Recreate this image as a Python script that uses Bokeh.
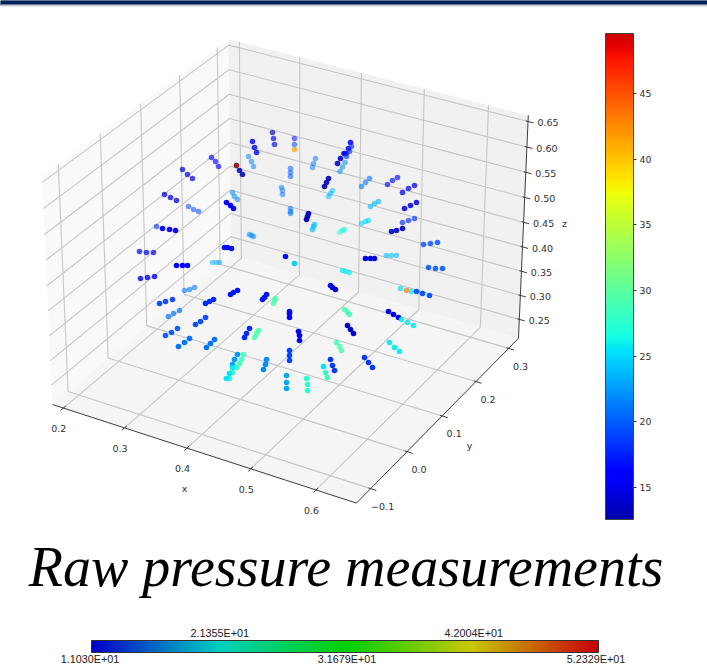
import numpy as np
from bokeh.core.properties import value
from bokeh.embed import file_html
from bokeh.models import ColorBar, ColumnDataSource, FixedTicker, LinearColorMapper, Range1d
from bokeh.plotting import figure
from bokeh.resources import INLINE

# ---- data ----
x_ticks = [0.2, 0.3, 0.4, 0.5, 0.6]
y_ticks = [-0.1, 0.0, 0.1, 0.2, 0.3]
z_ticks = [0.25, 0.30, 0.35, 0.40, 0.45, 0.50, 0.55, 0.60, 0.65]
x_tick_labels = ["0.2", "0.3", "0.4", "0.5", "0.6"]
y_tick_labels = ["\u22120.1", "0.0", "0.1", "0.2", "0.3"]
z_tick_labels = ["0.25", "0.30", "0.35", "0.40", "0.45", "0.50", "0.55", "0.60", "0.65"]
x_limits = (0.182, 0.661)
y_limits = (-0.138, 0.331)
z_limits = (0.21, 0.662)

# projected position of each measurement on the picture, with its pressure and depth shade
view_x = [272,273,274, 294,294,294, 252,254,256, 211,215,218, 236,239,242, 248,251,253, 315,313,312,
          290,290,290, 343.5,340,337, 350,348,345.5, 351,349,346, 344.5,342,339.5, 328,326,324, 332,330,328,
          281,282,282, 182,187,192, 164,170,176, 232,234,237, 226,230,233, 188,193,198, 290,290,290,
          308,307,306, 314,313,312, 344,342,339, 156,162,169,175, 249,251,253, 224,227,231, 285,294,
          139,146,153, 176,182,187, 212,216,219, 361,365,369, 387,392,397, 402,408,414, 370,374,378,
          404,410,416, 361,365,368, 402,408,414, 391,396,402, 423,430,437, 365,370,374, 386,391,396,
          428,435,442, 342,345,349, 140,147,154, 184,189,194, 159,165,172, 205,209,213, 230,233,237,
          262,264,266, 273,274,275, 330,332,335, 168,173,179, 195,200,205, 289,289,289, 344,347,349,
          347,350,353, 165,171,177, 178,184,189, 206,210,214, 244,246,249, 254,256,258, 298,299,299,
          336,339,341, 289,289,289, 266,265,263, 237,234,232, 243,241,239, 236,232,229, 232,229,226,
          286,286,286, 306,307,307, 323,325,327, 330,332,334, 400,406,411, 416,422,429, 388,393,398,
          401,407,413, 389,394,399, 364,368,372]
view_y = [132,138,144, 138,144,149, 141,147,152, 157,161,166, 165,170,174, 156,161,166, 158,163,167,
          168,172,176, 153,158,163, 142,148,153, 146,151,156, 162,166.5,171, 178,182,186, 190,193,196,
          187,190,194, 169,174,178, 194,197,200, 192,196,199, 202,205,208, 206,209,211, 208,211,213,
          213,216,219, 224,226,229, 229,230,232, 226,228,229,230, 234,235,236, 247,247,248, 256,263,
          251,252,252, 265,265,265, 262,262,262, 186,182,178, 184,180,177, 192,188,185, 206,203,201,
          208,205,202, 223,221,220, 222,220,218, 231,230,228, 244,243,242, 258,258,258, 255,255,255,
          267,268,268, 270,271,272, 278,277,276, 290,289,287, 303,301,299, 303,301,299, 294,292,290,
          299,297,294, 303,300,298, 285,287,289, 316,313,310, 324,321,317, 311,313,317, 309,312,314,
          325,329,333, 335,332,328, 346,342,338, 347,343,339, 337,333,328, 337,333,330, 331,335,340,
          342,346,350, 350,355,360, 359,364,369, 354,359,364, 354,359,363, 367,372,378, 367,373,378,
          375,382,388, 378,384,390, 366,372,377, 359,365,370, 288,290,291, 291,293,295, 311,314,317,
          319,322,325, 342,347,351, 357,362,367]
pressure = [13,15,15, 17,19,42, 16,16,16, 15.5,15.5,15.5, 52.3,13.5,13, 21,21,21, 21,21,21,
            20,20,20, 13.5,13.5,13.5, 16,16,16, 18.5,18.5,18.5, 22,22,22, 13,13,13, 24,24,24,
            21,21,21, 14.5,14.5,14.5, 14,14,14, 22,22,22, 16.5,16.5,16.5, 19,19,19, 21,21,21,
            13,13,13, 24,24,24, 27,26,28, 18,16,16,16, 22,22,22, 16,16,16, 16,24.5,
            15,15,15, 16.5,16.5,16.5, 23,23,23, 21,21,21, 16.5,16.5,16.5, 16.5,16.5,16.5, 23.5,23.5,23.5,
            14.5,14.5,14.5, 25,25,25, 18,18,18, 13.5,13.5,13.5, 19.5,19.5,19.5, 14.5,14.5,14.5, 24,24,24,
            19.5,19.5,19.5, 26,26,26, 15,15,15, 21,21,21, 18.5,18.5,18.5, 18,18,18, 17,17,17,
            17,17,17, 29,29,29, 14.5,14.5,14.5, 21,21,21, 19,19,19, 16,16,16, 29,29,29,
            14,14,14, 19.5,19.5,19.5, 21,21,21, 21,21,21, 18,18,18, 29,29,29, 15.5,15.5,15.5,
            29,29,29, 19,19,19, 22,22,22, 22.5,22.5,22.5, 28.5,28.5,28.5, 28,28,28, 25.5,25.5,25.5,
            23,23,23, 27.5,27.5,27.5, 25.5,28,28.5, 18.5,18.5,18.5, 25.5,43,25.5, 19.5,19.5,19.5, 15,15,15,
            26,26,26, 26,26,26, 18.5,18.5,18.5]
shade = [.65,.65,.65, .55,.55,.65, .8,.8,.8, .65,.65,.65, .85,.85,.85, .5,.5,.5, .5,.5,.5,
         .55,.55,.55, .9,.9,.9, .85,.85,.85, .65,.65,.65, .55,.55,.55, .9,.9,.9, .55,.55,.55,
         .5,.5,.5, .7,.7,.7, .75,.75,.75, .55,.55,.55, 1,1,1, .55,.55,.55, .55,.55,.55,
         .95,.95,.95, .65,.65,.65, .55,.55,.55, .6,.95,.95,.95, .55,.55,.55, .95,.95,.95, 1,.95,
         .7,.7,.7, 1,1,1, .5,.5,.5, .6,.6,.6, .65,.65,.65, .75,.75,.75, .6,.6,.6,
         .85,.85,.85, .6,.6,.6, .65,.65,.65, .9,.9,.9, .8,.8,.8, 1,1,1, .6,.6,.6,
         .85,.85,.85, .7,.7,.7, .8,.8,.8, .6,.6,.6, .9,.9,.9, 1,1,1, 1,1,1,
         1,1,1, .8,.8,.8, 1,1,1, .7,.7,.7, .95,.95,.95, 1,1,1, .85,.85,.85,
         1,1,1, .9,.9,.9, 1,1,1, 1,1,1, 1,1,1, .85,.85,.85, 1,1,1,
         .85,.85,.85, 1,1,1, 1,1,1, 1,1,1, .9,.9,.9, 1,1,1, 1,1,1,
         1,1,1, 1,1,1, 1,1,1, 1,1,1, .7,.7,.7, .95,.95,.95, 1,1,1,
         .9,.9,.9, 1,1,1, 1,1,1]

colorbar_low, colorbar_high = 12.54, 49.6
colorbar_ticks = [15, 20, 25, 30, 35, 40, 45]
range_low, range_high = 11.03, 52.329
range_ticks = [21.355, 31.679, 42.004]
range_tick_labels = ["2.1355E+01", "3.1679E+01", "4.2004E+01"]
range_end_labels = ["1.1030E+01", "5.2329E+01"]
title_text = "Raw pressure measurements"

# ---- palettes ----
def to_hex(r, g, b):
    return "#%02x%02x%02x" % (int(round(r)), int(round(g)), int(round(b)))

def jet_color(v):
    return to_hex(255 * np.interp(v, [0, .35, .66, .89, 1], [0, 0, 1, 1, .5]),
                  255 * np.interp(v, [0, .125, .375, .64, .91, 1], [0, 0, 1, 1, 0, 0]),
                  255 * np.interp(v, [0, .11, .34, .65, 1], [.5, 1, 1, 0, 0]))

t = np.linspace(0, 1, 256)
jet = [jet_color(v) for v in t]
t_low = (colorbar_low - range_low) / (range_high - range_low)
t_high = (colorbar_high - range_low) / (range_high - range_low)
jet_bar = [jet_color(v) for v in np.linspace(t_low, t_high, 256)]
stops = [0, .25, .5, .75, 1]
ramp = [to_hex(np.interp(v, stops, [0, 0, 0, 200, 200]),
               np.interp(v, stops, [0, 208, 208, 200, 0]),
               np.interp(v, stops, [200, 192, 0, 0, 0])) for v in t]

# ---- matplotlib style 3D view ----
C, S = np.cos(np.radians(30)), np.sin(np.radians(30))
half = np.array([4, 4, 3]) * 1.8294640721620434 / np.sqrt(41) / 2

def project(x, y, z):
    a = ((x - x_limits[0]) / (x_limits[1] - x_limits[0]) * 2 - 1) * half[0]
    b = ((y - y_limits[0]) / (y_limits[1] - y_limits[0]) * 2 - 1) * half[1]
    c = ((z - z_limits[0]) / (z_limits[1] - z_limits[0]) * 2 - 1) * half[2]
    u = C * a + S * b
    v = -S * S * a + S * C * b + C * c
    n = S * C * a - C * C * b + S * c
    w = 10 - n
    return 289.1 + 3048 * u / w, 259.9 - 3040 * v / w

def path(*corners):
    pts = [project(*c) for c in corners]
    return [q[0] for q in pts], [q[1] for q in pts]

x0, x1 = x_limits
y0, y1 = y_limits
z0, z1 = z_limits

p = figure(width=707, height=667, x_range=Range1d(0, 707), y_range=Range1d(667, 0),
           output_backend="svg", toolbar_location=None, min_border=0,
           background_fill_color="white", border_fill_color="white")
p.axis.visible = False
p.grid.visible = False
p.outline_line_color = None

# top strip of the page
p.quad(left=[0], right=[707], top=[0], bottom=[4.5], color="#00205a")
p.quad(left=[0], right=[707], top=[4.5], bottom=[5.5], color="#c8ccd8")

# panes
for corners, color in [
    ([(x0, y0, z0), (x0, y1, z0), (x0, y1, z1), (x0, y0, z1)], "#f9f9f9"),
    ([(x0, y1, z0), (x1, y1, z0), (x1, y1, z1), (x0, y1, z1)], "#f1f1f1"),
    ([(x0, y0, z0), (x1, y0, z0), (x1, y1, z0), (x0, y1, z0)], "#f5f5f5"),
]:
    xs, ys = path(*corners)
    p.patch(xs, ys, fill_color=color, line_color=None)

# grid
gx, gy = [], []
for v in x_ticks:
    a, b = path((v, y0, z0), (v, y1, z0), (v, y1, z1))
    gx.append(a); gy.append(b)
for v in y_ticks:
    a, b = path((x1, v, z0), (x0, v, z0), (x0, v, z1))
    gx.append(a); gy.append(b)
for v in z_ticks:
    a, b = path((x0, y0, v), (x0, y1, v), (x1, y1, v))
    gx.append(a); gy.append(b)
p.multi_line(gx, gy, line_color="#c6c6c6", line_width=1.1)

# axis edges and tick marks
ex, ey = [], []
for corners in [[(x0, y0, z0), (x1, y0, z0)], [(x1, y0, z0), (x1, y1, z0)], [(x1, y1, z0), (x1, y1, z1)]]:
    a, b = path(*corners)
    ex.append(a); ey.append(b)
dx, dy = x1 - x0, y1 - y0
for v in x_ticks:
    a, b = path((v, y0 + .012 * dy, z0), (v, y0 - .014 * dy, z0))
    ex.append(a); ey.append(b)
for v in y_ticks:
    a, b = path((x1 - .007 * dx, v, z0), (x1 + .018 * dx, v, z0))
    ex.append(a); ey.append(b)
for v in z_ticks:
    a, b = path((x1 - .007 * dx, y1, v), (x1 + .018 * dx, y1, v))
    ex.append(a); ey.append(b)
p.multi_line(ex, ey, line_color="#3c3c3c", line_width=1)

# measurements
mapper = LinearColorMapper(palette=jet, low=range_low, high=range_high)
src = ColumnDataSource(dict(x=view_x, y=view_y, p=pressure, a=shade))
p.scatter("x", "y", source=src, size=5.6, line_color=None,
          fill_color={"field": "p", "transform": mapper}, fill_alpha="a")

TICK = dict(text_font=value("DejaVu Sans"), text_font_size="9.5px", text_color="#303030",
            text_align="center", text_baseline="middle")
tx, ty = zip(*[project(v, y0, z0) for v in x_ticks])
p.text([a - 4.5 for a in tx], [b + 20.5 for b in ty], text=x_tick_labels, **TICK)
tx, ty = zip(*[project(x1, v, z0) for v in y_ticks])
p.text([a + 12 for a in tx], [b + 18 for b in ty], text=y_tick_labels, **TICK)
tx, ty = zip(*[project(x1, y1, v) for v in z_ticks])
p.text([a + 20 for a in tx], [b + 1.5 for b in ty], text=z_tick_labels, **TICK)
p.text([184, 469, 564], [488, 445, 223], text=["x", "y", "z"], **TICK)

# jet colour bar
bar_mapper = LinearColorMapper(palette=jet_bar, low=colorbar_low, high=colorbar_high)
cb = ColorBar(color_mapper=bar_mapper, location=(605, 148), width=28, height=486, padding=0,
              ticker=FixedTicker(ticks=colorbar_ticks), major_tick_in=0, major_tick_out=3,
              major_tick_line_color="#303030", bar_line_color="#444444", bar_line_width=1,
              major_label_text_font="DejaVu Sans", major_label_text_font_size="9.3px",
              major_label_text_color="#303030", label_standoff=3,
              border_line_color=None, background_fill_color=None, minor_tick_line_color=None)
p.add_layout(cb, "center")

# title
p.text([345.5], [566], text=[title_text], text_font=value("Liberation Serif"), text_font_style="italic",
       text_font_size="56px", text_color="black", text_align="center", text_baseline="alphabetic")

# pressure range bar
bar_left, bar_right = 91, 598
def bar_x(v):
    return bar_left + (v - range_low) / (range_high - range_low) * (bar_right - bar_left)

mapper2 = LinearColorMapper(palette=ramp, low=range_low, high=range_high)
cb2 = ColorBar(color_mapper=mapper2, location=(91, 15), orientation="horizontal", width=507, height=12,
               padding=0, ticker=FixedTicker(ticks=[]), bar_line_color="#303030", bar_line_width=1,
               border_line_color=None, background_fill_color=None, major_tick_line_color=None,
               minor_tick_line_color=None, major_label_text_font_size="0px")
p.add_layout(cb2, "center")
tick_px = [bar_x(v) for v in range_ticks]
p.segment(tick_px, [640, 640, 640], tick_px, [645, 652, 645], line_color="#202020", line_width=1)
LAB = dict(text_font=value("Liberation Sans"), text_font_size="10.8px", text_color="#202020",
           text_align="center", text_baseline="middle")
p.text([tick_px[0] + 1.5, tick_px[2] + 2], [632, 632], text=[range_tick_labels[0], range_tick_labels[2]], **LAB)
p.text([bar_x(range_low) - 1.5, tick_px[1] + 2, bar_x(range_high) - 2.5], [658, 658, 658],
       text=[range_end_labels[0], range_tick_labels[1], range_end_labels[1]], **LAB)

open("out.html", "w").write(file_html(p, INLINE))
